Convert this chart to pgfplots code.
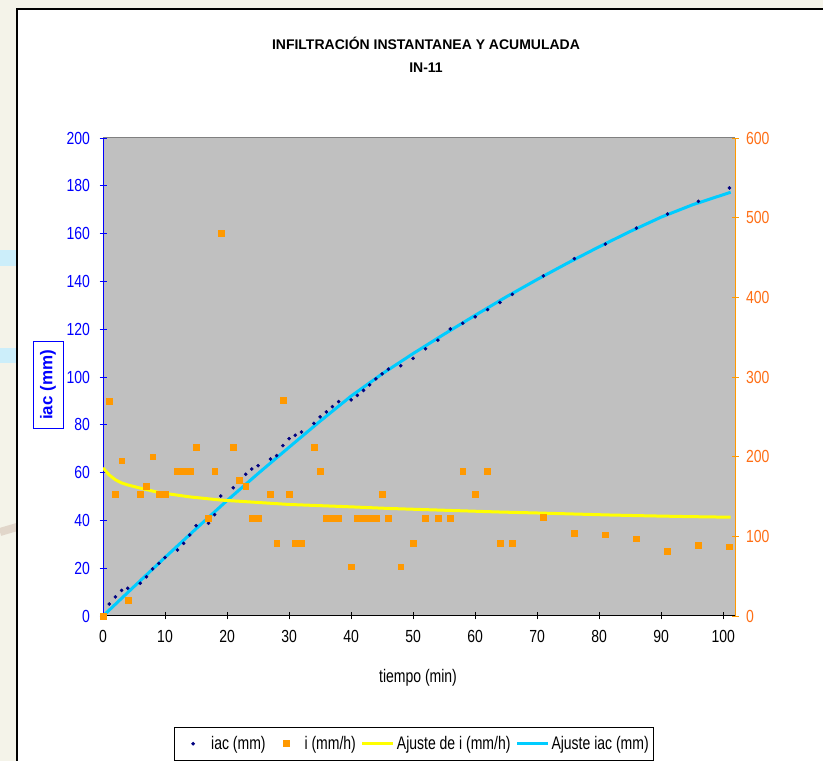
\documentclass[border=0pt]{standalone}
\usepackage{pgfplots}
\pgfplotsset{compat=1.18}
\usepackage{fontspec}
\setmainfont{Liberation Sans}
\definecolor{cream}{RGB}{244,243,233}
\definecolor{plotgray}{RGB}{192,192,192}
\definecolor{navyD}{RGB}{0,0,128}
\definecolor{orangeM}{RGB}{255,153,0}
\definecolor{orangeT}{RGB}{255,110,20}
\definecolor{yel}{RGB}{255,255,0}
\definecolor{cyanL}{RGB}{0,204,255}
\definecolor{lblue}{RGB}{204,238,250}
\definecolor{tanB}{RGB}{225,214,202}
\newcommand{\lf}{\fontsize{14bp}{16bp}\selectfont}
\newcommand{\st}[1]{\scalebox{1}[1.3]{#1}}
\newcommand{\stt}[1]{\scalebox{1}[1.25]{#1}}
\pgfplotsset{
  markleg/.style={legend image code/.code={\path[draw=none,fill=none] (0bp,0bp) -- (32bp,0bp); \draw[##1] plot coordinates {(16bp,0bp)};}},
  lineleg/.style={legend image code/.code={\draw[##1] (0bp,0bp) -- (31bp,0bp);}},
}

\pgfplotstableread{
t iac i
0 0 0
1 5.0 270
2 8.0 153
3 10.7 195
4 11.6 20
6 13.7 153
7 16.4 163
8 19.7 200
9 22.0 153
10 24.5 153
12 27.6 182
13 30.4 182
14 33.9 182
15 37.8 212
17 38.8 123
18 42.4 182
19 50.2 480
21 53.7 212
22 56.5 170
23 59.3 163
24 61.5 123
25 62.9 123
27 65.7 153
28 67.1 91
29 71.3 271
30 74.2 153
31 75.6 91
32 77.0 91
34 80.6 212
35 83.3 182
36 85.4 123
37 87.6 123
38 89.7 123
40 90.4 62
41 92.3 123
42 94.4 123
43 96.7 123
44 99.2 123
45 101.3 153
46 103.3 123
48 104.7 62
50 107.8 91
52 111.8 123
54 115.4 123
56 120.1 123
58 122.5 182
60 125.2 153
62 128.2 182
64 131.2 91
66 134.6 91
71 142.3 124
76 149.5 104
81 155.6 102
86 162.3 97
91 168.2 81
96 173.5 89
101 179.1 87
}\datatab

\pgfplotstableread{
t fi
0 186
1 177
2 171
3 167
4 164.5
6 160.5
9 155
14 149.5
19 145.5
25 142.5
30 140
35 138.5
40 137
46 135
52 133.5
58 132
64 130.5
70 129.3
76 128
82 126.7
88 125.7
94 124.8
101.2 124
}\fittab

\pgfplotstableread{
t fiac
0 0
5 12.3
10 24.5
15 36.5
20 48.3
25 59.6
30 70.6
35 81.5
40 92
45 101.3
50 109.8
55 117.9
60 125.8
65 133.5
70 140.8
75 147.8
80 154.5
85 160.9
90 166.9
95 172.0
101.2 177.3
}\fitiac

\begin{document}
\begin{tikzpicture}[x=1bp,y=1bp]
\useasboundingbox (0,0) rectangle (823,761);
\fill[cream] (0,0) rectangle (823,761);
\fill[lblue] (0,495) rectangle (17,511);
\fill[lblue] (0,398) rectangle (17,413);
\draw[tanB, line width=8bp] (0,229) -- (17,234);
\filldraw[fill=white, draw=black, line width=1.5bp] (17,-10) rectangle (840,752);

\node[font=\bfseries\fontsize{14bp}{16bp}\selectfont] at (426,718) {INFILTRACIÓN INSTANTANEA Y ACUMULADA};
\node[font=\bfseries\fontsize{14bp}{16bp}\selectfont] at (426,693) {IN-11};
\node[font=\lf] at (418,83) {\st{tiempo (min)}};
\node[draw=blue, line width=1bp, rotate=90, text=blue, inner sep=2bp, minimum width=87bp, minimum height=30bp, font=\bfseries\fontsize{17bp}{19bp}\selectfont] at (48,376) {iac (mm)};

\begin{axis}[
  at={(103bp,145bp)}, anchor=south west, scale only axis,
  width=632bp, height=478bp,
  xmin=0, xmax=101.9, ymin=0, ymax=200,
  axis x line*=bottom, axis y line*=left,
  axis line style={-},
  x axis line style={black, line width=1bp},
  y axis line style={blue, line width=1bp},
  axis background/.style={fill=plotgray},
  xtick={0,10,...,100}, ytick={0,20,...,200},
  tick align=center, major tick length=7bp,
  x tick style={black, line width=0.8bp},
  y tick style={blue, line width=0.8bp},
  xticklabel={\stt{\pgfmathprintnumber{\tick}}},
  yticklabel={\stt{\pgfmathprintnumber{\tick}}},
  xticklabel style={font=\lf, text=black, yshift=-7bp},
  yticklabel style={font=\lf, text=blue, xshift=-6bp},
  /pgf/number format/assume math mode=true,
  clip=false,
]
\draw[gray, line width=1bp] (rel axis cs:0,1) -- (rel axis cs:1,1);
\addplot[only marks, mark=*, mark size=1.6bp, navyD] table[x=t, y=iac] {\datatab};
\addplot[cyanL, line width=3bp, no marks] table[x=t, y=fiac] {\fitiac};
\end{axis}

\begin{axis}[
  at={(103bp,145bp)}, anchor=south west, scale only axis,
  width=632bp, height=478bp,
  xmin=0, xmax=101.9, ymin=0, ymax=600,
  axis x line=none, axis y line*=right,
  axis line style={-},
  y axis line style={orangeM, line width=1bp},
  ytick={0,100,...,600},
  tick align=center, major tick length=7bp,
  y tick style={orangeM, line width=0.8bp},
  yticklabel={\stt{\pgfmathprintnumber{\tick}}},
  yticklabel style={font=\lf, text=orangeT, xshift=4bp},
  /pgf/number format/assume math mode=true,
  legend columns=4,
  legend style={at={(0.492,-0.232)}, anchor=north, draw=black, line width=1bp,
    fill=white, font=\lf, inner xsep=3bp, inner ysep=7bp,
    nodes={inner sep=2bp},
    /tikz/every odd column/.append style={column sep=0bp},
    /tikz/every even column/.append style={column sep=3bp}},
  legend cell align=left,
]
\addlegendimage{only marks, mark=*, mark size=1.3bp, navyD, markleg}
\addlegendentry{\st{iac (mm)}}
\addplot[only marks, mark=square*, mark size=2.9bp, orangeM, markleg] table[x=t, y=i] {\datatab};
\addlegendentry{\st{i (mm/h)}}
\addplot[yel, line width=3bp, no marks, lineleg] table[x=t, y=fi] {\fittab};
\addlegendentry{\st{Ajuste de i (mm/h)}}
\addlegendimage{cyanL, line width=3bp, lineleg}
\addlegendentry{\st{Ajuste iac (mm)}}
\end{axis}
\end{tikzpicture}
\end{document}
